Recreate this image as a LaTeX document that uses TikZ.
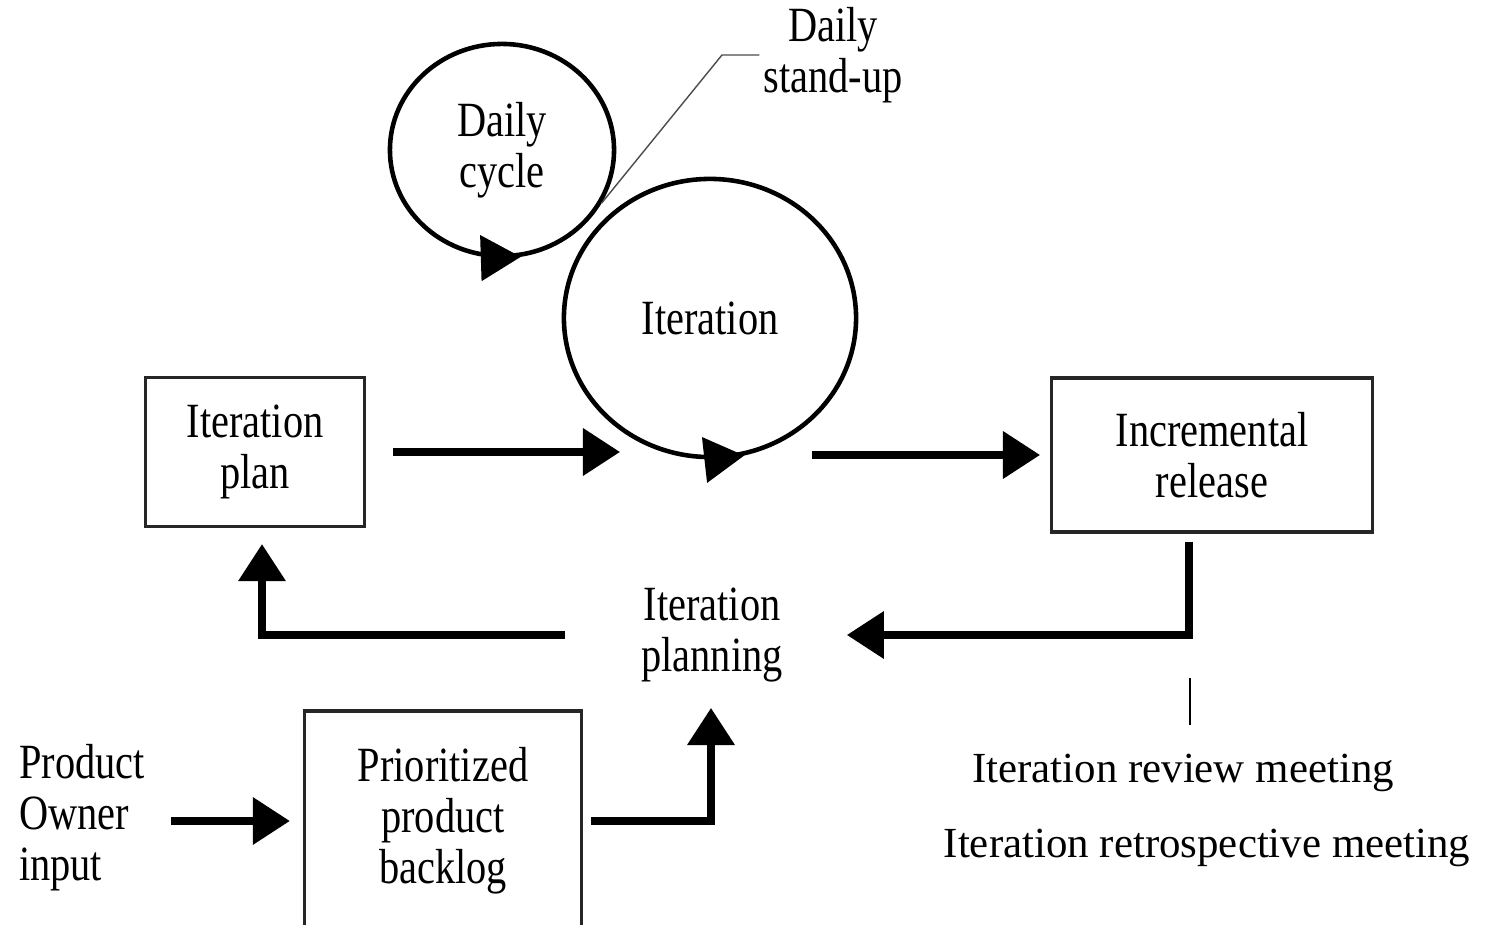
\documentclass[tikz,border=0pt]{standalone}
\usepackage{fontspec}
\setmainfont{Liberation Serif}
\newfontfamily\boxfont[FakeStretch=0.82]{Liberation Serif}
\usetikzlibrary{arrows.meta,shapes.geometric}
\begin{document}
\begin{tikzpicture}
		[x=0.01cm, y=-0.01cm,
		every node/.style={inner sep=1pt, align=center, font=\boxfont\fontsize{14}{14.5}\selectfont},
		box/.style={draw=black!85, line width=0.9pt, rectangle},
		loop/.style={draw, ellipse, line width=1.3pt},
		looptip/.style={line width=1.3pt, -{Triangle[length=0.4cm, width=0.45cm]}},
		flow/.style={line width=2pt, -{Triangle[length=0.37cm, width=0.46cm]}},
		meeting/.style={font=\fontsize{12.2}{14}\selectfont, anchor=base}]
		\useasboundingbox (0,0) rectangle (1487,925);
		\clip (0,0) rectangle (1487,925);
		\fill[white] (0,0) rectangle (1487,925);
		
		\node[loop, minimum width=2.24cm, minimum height=2.12cm] (daily) at (502,150) {Daily\\cycle};
		\node[loop, minimum width=2.92cm, minimum height=2.78cm] (iter) at (710,318) {Iteration};
		\node (standup) at (833,55) {Daily\\stand-up};
		\coordinate (kink) at (722,55);
		
		\node[box, minimum width=2.19cm, minimum height=1.49cm] (plan) at (255,452) {Iteration\\plan};
		\node[box, minimum width=3.21cm, minimum height=1.54cm] (release) at (1212,455) {Incremental\\release};
		\node (planning) at (712,635) {Iteration\\planning};
		\node[box, minimum width=2.77cm, minimum height=2.2cm] (backlog) at (443,821) {Prioritized\\product\\backlog};
		\node[anchor=west, align=left] (owner) at (15,818) {Product\\Owner\\input};
		
		\node[meeting] (review) at (1183,783) {Iteration review meeting};
		\node[meeting] (retro) at (1207,858) {Iteration retrospective meeting};
		\coordinate (meettop) at (1190,678);
		\coordinate (meetbottom) at (1190,725);
		
		\coordinate (iterin) at (620,452);
		\coordinate (iterout) at (812,455);
		\coordinate (relin) at (1040,455);
		\coordinate (planningup) at (711,708);
		
		\draw[black!70, thin] (daily.-28) -- (kink) -- (standup.west);
		\draw[looptip] (daily.-96) -- (daily.-80);
		\draw[looptip] (iter.-90) -- (iter.-76);
		
		\draw[flow, shorten <=0.27cm] (plan.east) -- (iterin);
		\draw[flow] (iterout) -- (relin);
		\draw[flow, shorten <=0.08cm, shorten >=0.6cm] ([xshift=-0.23cm]release.south) |- (planning.east);
		\draw[flow, shorten <=0.72cm, shorten >=0.16cm] (planning.west) -| ([xshift=0.07cm]plan.south);
		\draw[flow, shorten <=0.22cm, shorten >=0.13cm] (owner.east |- backlog.west) -- (backlog.west);
		\draw[flow, shorten <=0.08cm] (backlog.east) -| (planningup);
		\draw (meettop) -- (meetbottom);
\end{tikzpicture}
\end{document}
